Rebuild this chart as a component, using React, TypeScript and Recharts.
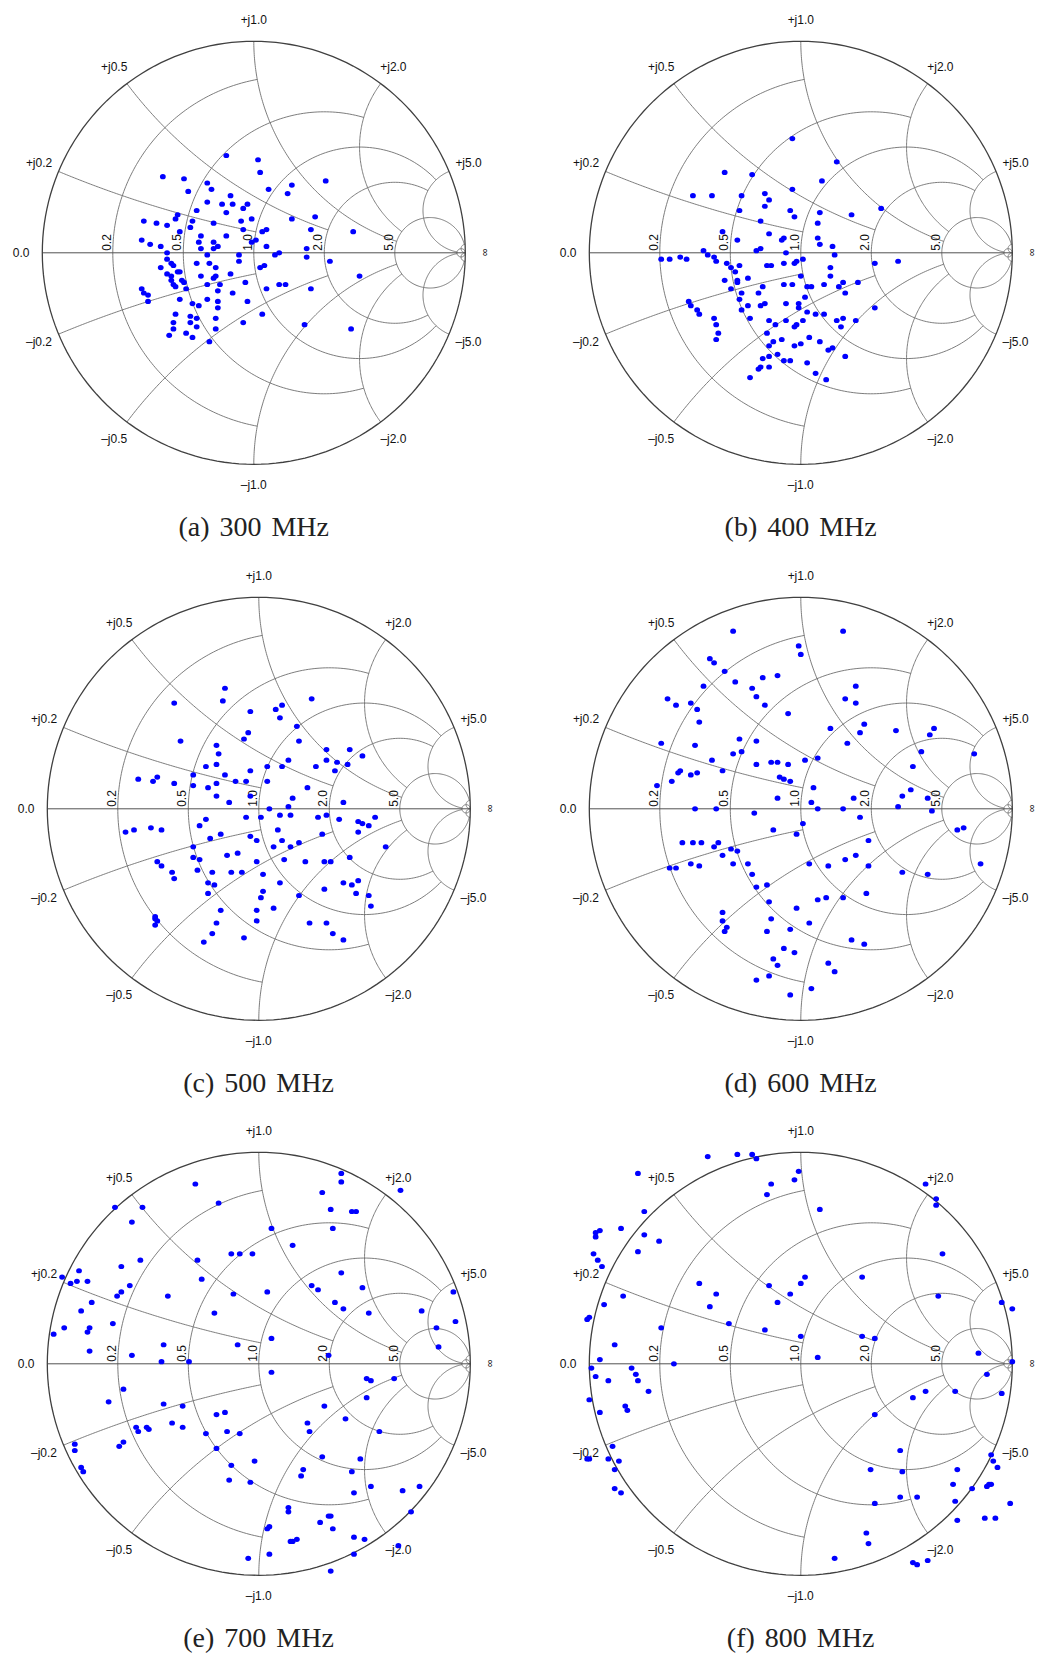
import React from 'react';
import { ScatterChart, Scatter, XAxis, YAxis } from 'recharts';

// reflection coefficient readings (real, imag) per frequency
const mhz300 = [
  [-0.13, 0.46], [0.02, 0.44], [0.03, 0.38], [-0.43, 0.36], [-0.33, 0.35], [-0.31, 0.29], [-0.22, 0.33], [-0.2, 0.3],
  [0.07, 0.3], [0.18, 0.32], [0.16, 0.28], [0.34, 0.34], [-0.11, 0.27], [-0.22, 0.24], [-0.15, 0.23], [-0.1, 0.23],
  [-0.03, 0.23], [-0.05, 0.21], [-0.13, 0.19], [-0.27, 0.2], [-0.36, 0.18], [-0.37, 0.16], [-0.29, 0.15], [-0.19, 0.14],
  [-0.06, 0.15], [-0.01, 0.16], [0.18, 0.16], [0.29, 0.17], [-0.52, 0.15], [-0.46, 0.14], [-0.41, 0.13], [-0.3, 0.12],
  [-0.35, 0.1], [-0.05, 0.11], [0.04, 0.1], [0.06, 0.11], [0.27, 0.11], [0.47, 0.1], [-0.25, 0.08], [-0.13, 0.08],
  [-0.53, 0.06], [-0.49, 0.04], [-0.44, 0.03], [-0.26, 0.05], [-0.19, 0.05], [-0.17, 0.03], [-0.25, 0.02], [-0.19, 0.02],
  [-0.01, 0.05], [0.01, 0.06], [0.06, 0.03], [0.25, 0.02], [0.12, 0.0], [0.1, -0.01], [-0.07, -0.01], [-0.22, -0.01],
  [-0.41, 0.0], [-0.41, -0.03], [0.25, -0.02], [-0.07, -0.04], [-0.27, -0.05], [-0.21, -0.05], [-0.39, -0.05], [-0.38, -0.06],
  [-0.44, -0.07], [-0.18, -0.07], [0.03, -0.07], [0.05, -0.06], [0.36, -0.04], [-0.36, -0.09], [-0.35, -0.09], [-0.41, -0.1],
  [-0.39, -0.11], [-0.39, -0.13], [-0.25, -0.11], [-0.18, -0.11], [-0.19, -0.12], [-0.11, -0.1], [-0.34, -0.13], [-0.33, -0.14],
  [-0.38, -0.15], [-0.37, -0.16], [-0.32, -0.17], [-0.16, -0.15], [-0.22, -0.15], [-0.04, -0.14], [0.12, -0.15], [0.15, -0.15],
  [0.5, -0.11], [-0.53, -0.17], [-0.52, -0.19], [-0.5, -0.2], [-0.5, -0.23], [0.06, -0.17], [0.27, -0.17], [-0.17, -0.18],
  [-0.1, -0.19], [-0.35, -0.22], [-0.22, -0.22], [-0.03, -0.23], [-0.29, -0.24], [-0.26, -0.25], [-0.17, -0.23], [-0.17, -0.26],
  [-0.37, -0.29], [-0.3, -0.3], [-0.27, -0.31], [-0.18, -0.31], [0.04, -0.29], [-0.05, -0.33], [-0.38, -0.33], [-0.3, -0.33],
  [-0.27, -0.35], [-0.38, -0.36], [-0.32, -0.38], [-0.4, -0.39], [-0.29, -0.4], [-0.18, -0.36], [-0.21, -0.42], [0.24, -0.34],
  [0.46, -0.36],
];

const mhz400 = [
  [-0.04, 0.54], [0.17, 0.43], [-0.36, 0.38], [-0.23, 0.37], [0.1, 0.34], [-0.04, 0.3], [-0.51, 0.27], [-0.42, 0.27],
  [-0.28, 0.27], [-0.17, 0.28], [-0.15, 0.25], [-0.17, 0.22], [-0.05, 0.2], [-0.03, 0.17], [-0.29, 0.2], [0.38, 0.21],
  [0.24, 0.18], [0.09, 0.19], [-0.19, 0.15], [0.08, 0.14], [-0.37, 0.1], [-0.15, 0.09], [-0.3, 0.06], [-0.09, 0.06],
  [-0.08, 0.07], [0.08, 0.07], [0.09, 0.04], [0.15, 0.03], [-0.19, 0.02], [-0.21, 0.01], [-0.07, 0.0], [-0.46, 0.01],
  [-0.44, -0.01], [-0.41, -0.02], [-0.4, -0.04], [-0.66, -0.03], [-0.62, -0.03], [-0.57, -0.02], [-0.54, -0.03], [0.16, -0.01],
  [-0.03, -0.05], [-0.02, -0.04], [0.01, -0.03], [-0.08, -0.05], [-0.16, -0.06], [-0.14, -0.06], [-0.35, -0.05], [-0.33, -0.07],
  [-0.31, -0.09], [-0.29, -0.06], [0.35, -0.05], [0.46, -0.04], [0.14, -0.07], [0.14, -0.11], [0.0, -0.11], [-0.25, -0.12],
  [-0.3, -0.13], [-0.3, -0.14], [-0.36, -0.13], [-0.33, -0.17], [-0.08, -0.15], [-0.04, -0.15], [-0.18, -0.16], [-0.2, -0.19],
  [0.03, -0.16], [0.05, -0.16], [0.11, -0.15], [0.18, -0.16], [0.2, -0.14], [0.27, -0.14], [0.21, -0.19], [-0.28, -0.19],
  [-0.29, -0.22], [0.02, -0.21], [-0.01, -0.24], [-0.01, -0.26], [-0.07, -0.24], [-0.25, -0.25], [-0.17, -0.24], [-0.19, -0.25],
  [-0.53, -0.23], [-0.52, -0.25], [-0.49, -0.27], [-0.48, -0.29], [-0.28, -0.27], [-0.24, -0.31], [-0.15, -0.32], [-0.07, -0.32],
  [0.03, -0.28], [0.07, -0.29], [0.11, -0.29], [0.17, -0.32], [0.2, -0.31], [0.26, -0.32], [0.35, -0.26], [-0.12, -0.34],
  [-0.03, -0.35], [-0.02, -0.34], [0.01, -0.32], [0.19, -0.35], [-0.41, -0.31], [-0.4, -0.34], [-0.39, -0.38], [-0.4, -0.41],
  [-0.16, -0.38], [-0.13, -0.42], [-0.15, -0.44], [-0.09, -0.41], [-0.03, -0.44], [0.0, -0.43], [0.04, -0.4], [0.09, -0.42],
  [0.13, -0.46], [0.15, -0.45], [0.21, -0.49], [-0.18, -0.5], [-0.15, -0.49], [-0.11, -0.48], [-0.08, -0.51], [-0.05, -0.51],
  [0.03, -0.52], [0.07, -0.57], [0.12, -0.6], [-0.2, -0.55], [-0.19, -0.54], [-0.15, -0.54], [-0.24, -0.59],
];

const mhz500 = [
  [-0.16, 0.57], [-0.17, 0.51], [-0.4, 0.5], [-0.04, 0.46], [0.08, 0.47], [0.11, 0.49], [0.1, 0.43], [0.25, 0.52],
  [-0.05, 0.36], [-0.07, 0.33], [0.18, 0.39], [0.19, 0.32], [-0.37, 0.32], [-0.2, 0.3], [-0.19, 0.26], [-0.25, 0.2],
  [-0.2, 0.21], [-0.04, 0.18], [0.32, 0.28], [0.43, 0.28], [0.49, 0.25], [0.32, 0.23], [0.37, 0.22], [0.42, 0.21],
  [0.36, 0.18], [0.27, 0.2], [0.14, 0.23], [0.11, 0.2], [0.04, 0.2], [-0.57, 0.14], [-0.5, 0.13], [-0.48, 0.15],
  [-0.4, 0.12], [-0.31, 0.16], [-0.31, 0.11], [-0.24, 0.1], [-0.2, 0.12], [-0.16, 0.16], [-0.11, 0.13], [-0.06, 0.13],
  [0.04, 0.13], [0.23, 0.1], [0.4, 0.03], [-0.2, 0.06], [-0.14, 0.03], [-0.04, 0.06], [0.16, 0.05], [0.14, 0.01],
  [0.05, 0.0], [0.1, -0.03], [0.15, -0.03], [0.01, -0.04], [-0.06, -0.04], [-0.25, -0.05], [-0.28, -0.08], [0.28, -0.04],
  [0.32, -0.03], [0.38, -0.05], [0.47, -0.06], [0.49, -0.07], [0.52, -0.08], [0.55, -0.04], [0.47, -0.11], [-0.63, -0.11],
  [-0.59, -0.1], [-0.51, -0.09], [-0.46, -0.1], [-0.23, -0.14], [-0.18, -0.12], [-0.04, -0.13], [-0.01, -0.15], [0.09, -0.1],
  [0.11, -0.15], [0.07, -0.18], [0.15, -0.18], [0.19, -0.16], [0.3, -0.12], [-0.31, -0.18], [-0.31, -0.23], [-0.28, -0.24],
  [-0.15, -0.22], [-0.1, -0.21], [-0.01, -0.25], [0.12, -0.24], [0.22, -0.25], [0.31, -0.25], [0.34, -0.25], [0.43, -0.23],
  [0.6, -0.18], [-0.48, -0.25], [-0.46, -0.27], [-0.41, -0.3], [-0.4, -0.33], [-0.29, -0.29], [-0.22, -0.3], [-0.13, -0.3],
  [-0.08, -0.3], [0.02, -0.31], [-0.24, -0.35], [-0.21, -0.36], [-0.24, -0.4], [0.1, -0.35], [0.02, -0.39], [0.01, -0.42],
  [0.19, -0.41], [0.31, -0.38], [0.4, -0.35], [0.44, -0.36], [0.47, -0.34], [0.46, -0.4], [0.52, -0.41], [0.53, -0.46],
  [0.07, -0.47], [-0.01, -0.48], [-0.18, -0.48], [-0.49, -0.51], [-0.49, -0.52], [-0.48, -0.53], [-0.49, -0.55], [-0.01, -0.53],
  [-0.2, -0.54], [-0.22, -0.59], [-0.26, -0.63], [-0.07, -0.61], [0.24, -0.54], [0.32, -0.54], [0.35, -0.59], [0.4, -0.62],
];

const mhz600 = [
  [-0.32, 0.84], [0.2, 0.84], [-0.01, 0.77], [0.0, 0.73], [-0.43, 0.71], [-0.41, 0.69], [-0.36, 0.65], [-0.31, 0.6],
  [-0.18, 0.62], [-0.11, 0.63], [-0.46, 0.58], [-0.23, 0.57], [-0.21, 0.53], [-0.17, 0.49], [-0.63, 0.52], [-0.59, 0.49],
  [-0.52, 0.5], [-0.49, 0.47], [-0.48, 0.41], [-0.06, 0.45], [0.26, 0.58], [0.21, 0.52], [0.26, 0.5], [0.14, 0.38],
  [0.3, 0.4], [0.28, 0.36], [0.45, 0.37], [0.63, 0.38], [0.61, 0.35], [0.57, 0.27], [0.53, 0.2], [0.82, 0.26],
  [-0.66, 0.31], [-0.5, 0.3], [-0.42, 0.23], [-0.37, 0.18], [-0.32, 0.26], [-0.29, 0.33], [-0.28, 0.27], [-0.21, 0.32],
  [-0.21, 0.21], [-0.14, 0.22], [-0.11, 0.22], [-0.06, 0.21], [0.02, 0.23], [0.08, 0.24], [0.22, 0.31], [-0.58, 0.17],
  [-0.57, 0.18], [-0.52, 0.16], [-0.49, 0.17], [-0.61, 0.13], [-0.68, 0.11], [-0.1, 0.15], [-0.08, 0.14], [-0.05, 0.13],
  [0.06, 0.1], [0.52, 0.09], [0.48, 0.06], [0.6, 0.05], [-0.11, 0.05], [0.05, 0.03], [0.25, 0.05], [-0.5, 0.0],
  [-0.4, 0.0], [-0.22, -0.02], [0.08, 0.0], [0.2, 0.0], [0.28, -0.04], [0.46, 0.01], [0.62, -0.01], [-0.13, -0.1],
  [-0.02, -0.12], [0.01, -0.07], [0.74, -0.1], [0.77, -0.09], [0.32, -0.15], [-0.56, -0.16], [-0.51, -0.16], [-0.47, -0.16],
  [-0.41, -0.18], [-0.39, -0.16], [-0.37, -0.22], [-0.33, -0.19], [-0.3, -0.2], [-0.62, -0.28], [-0.59, -0.28], [-0.52, -0.26],
  [-0.48, -0.27], [-0.32, -0.26], [-0.25, -0.26], [-0.23, -0.31], [-0.21, -0.37], [-0.16, -0.36], [-0.15, -0.44], [0.04, -0.26],
  [0.13, -0.27], [0.21, -0.24], [0.26, -0.22], [0.32, -0.27], [0.48, -0.3], [0.6, -0.31], [0.85, -0.26], [0.31, -0.4],
  [0.2, -0.42], [0.12, -0.42], [0.08, -0.43], [-0.02, -0.47], [-0.37, -0.49], [-0.37, -0.53], [-0.35, -0.56], [-0.36, -0.58],
  [-0.14, -0.52], [-0.16, -0.58], [-0.05, -0.57], [0.04, -0.54], [0.24, -0.62], [0.3, -0.64], [-0.08, -0.66], [-0.03, -0.68],
  [-0.13, -0.71], [-0.11, -0.74], [0.13, -0.73], [0.16, -0.77], [-0.21, -0.81], [-0.15, -0.79], [0.05, -0.85], [-0.05, -0.88],
];

const mhz700 = [
  [-0.3, 0.85], [-0.19, 0.76], [-0.68, 0.74], [-0.55, 0.74], [-0.6, 0.67], [0.39, 0.9], [0.39, 0.86], [0.3, 0.81],
  [0.67, 0.82], [0.34, 0.73], [0.44, 0.72], [0.46, 0.72], [0.35, 0.64], [0.06, 0.64], [0.16, 0.56], [-0.13, 0.52],
  [-0.09, 0.52], [-0.03, 0.52], [-0.29, 0.49], [-0.56, 0.49], [-0.65, 0.46], [-0.27, 0.4], [-0.85, 0.44], [-0.93, 0.41],
  [-0.89, 0.38], [-0.86, 0.39], [-0.81, 0.39], [-0.61, 0.37], [-0.65, 0.34], [-0.67, 0.32], [-0.43, 0.32], [-0.12, 0.33],
  [0.04, 0.34], [0.25, 0.37], [0.28, 0.35], [0.39, 0.43], [0.49, 0.36], [0.36, 0.29], [0.4, 0.26], [0.52, 0.24],
  [0.77, 0.25], [0.92, 0.34], [0.93, 0.2], [0.84, 0.17], [0.85, 0.08], [-0.79, 0.29], [-0.84, 0.25], [-0.21, 0.24],
  [-0.92, 0.17], [-0.8, 0.17], [-0.81, 0.15], [-0.69, 0.19], [-0.97, 0.14], [-0.8, 0.06], [-0.45, 0.09], [-0.6, 0.04],
  [-0.1, 0.09], [0.06, 0.12], [0.33, 0.04], [-0.46, 0.01], [-0.33, 0.01], [0.06, -0.04], [0.51, -0.07], [0.53, -0.08],
  [0.64, -0.07], [0.51, -0.16], [-0.64, -0.12], [-0.71, -0.18], [-0.45, -0.19], [-0.36, -0.2], [-0.2, -0.24], [-0.16, -0.23],
  [0.31, -0.2], [-0.41, -0.28], [-0.36, -0.3], [-0.58, -0.3], [-0.57, -0.32], [-0.53, -0.3], [-0.52, -0.31], [-0.25, -0.33],
  [-0.15, -0.32], [-0.09, -0.33], [0.23, -0.28], [0.24, -0.32], [0.41, -0.26], [0.57, -0.32], [-0.87, -0.38], [-0.87, -0.41],
  [-0.66, -0.39], [-0.64, -0.37], [-0.2, -0.4], [0.3, -0.44], [0.48, -0.45], [-0.84, -0.49], [-0.83, -0.51], [-0.13, -0.48],
  [-0.02, -0.46], [0.21, -0.5], [0.2, -0.53], [0.44, -0.51], [-0.14, -0.55], [-0.04, -0.56], [0.53, -0.58], [0.45, -0.61],
  [0.68, -0.6], [0.76, -0.58], [0.72, -0.7], [0.14, -0.68], [0.14, -0.7], [0.29, -0.75], [0.33, -0.72], [0.34, -0.72],
  [0.35, -0.78], [0.05, -0.77], [0.04, -0.78], [0.15, -0.84], [0.16, -0.84], [0.18, -0.83], [0.45, -0.82], [0.5, -0.83],
  [0.05, -0.9], [0.45, -0.9], [0.66, -0.86], [-0.05, -0.92], [0.34, -0.98],
];

const mhz800 = [
  [-0.44, 0.98], [-0.3, 0.99], [-0.23, 0.99], [-0.21, 0.97], [-0.77, 0.9], [-0.01, 0.91], [-0.03, 0.87], [-0.14, 0.85],
  [-0.16, 0.8], [0.09, 0.73], [0.59, 0.85], [0.64, 0.78], [0.64, 0.75], [-0.74, 0.72], [-0.85, 0.64], [-0.97, 0.6],
  [-0.97, 0.62], [-0.95, 0.63], [-0.74, 0.61], [-0.67, 0.58], [-0.77, 0.53], [-0.98, 0.52], [-0.96, 0.49], [-0.94, 0.46],
  [0.67, 0.52], [0.29, 0.41], [0.02, 0.41], [0.0, 0.38], [-0.15, 0.37], [-0.05, 0.33], [-0.11, 0.29], [-0.48, 0.38],
  [-0.4, 0.33], [-0.43, 0.27], [-0.84, 0.32], [-0.93, 0.28], [0.65, 0.32], [0.95, 0.29], [1.0, 0.26], [-1.01, 0.21],
  [-1.0, 0.22], [-0.34, 0.19], [-0.17, 0.16], [-0.66, 0.17], [0.0, 0.13], [0.29, 0.13], [0.35, 0.12], [-0.88, 0.09],
  [-0.95, 0.02], [-0.6, 0.0], [0.08, 0.03], [0.84, 0.05], [1.0, 0.01], [-0.99, -0.02], [-0.97, -0.06], [-0.91, -0.08],
  [-0.8, -0.02], [-0.78, -0.05], [-0.77, -0.08], [-0.72, -0.13], [0.88, -0.05], [-1.0, -0.17], [-0.83, -0.2], [-0.82, -0.22],
  [-0.95, -0.23], [0.53, -0.16], [0.59, -0.13], [0.73, -0.13], [0.95, -0.14], [0.35, -0.24], [0.47, -0.41], [0.33, -0.5],
  [0.48, -0.51], [0.9, -0.43], [0.91, -0.46], [0.93, -0.49], [0.74, -0.5], [0.72, -0.57], [0.81, -0.59], [0.89, -0.57],
  [0.9, -0.57], [0.88, -0.58], [0.73, -0.65], [0.99, -0.66], [0.74, -0.74], [0.87, -0.73], [0.92, -0.73], [0.35, -0.66],
  [0.47, -0.63], [0.55, -0.63], [0.31, -0.8], [0.32, -0.85], [0.16, -0.92], [0.53, -0.94], [0.55, -0.95], [0.6, -0.93],
  [-0.89, -0.39], [-1.01, -0.45], [-1.0, -0.45], [-0.91, -0.45], [-0.86, -0.46], [-0.88, -0.5], [-0.88, -0.59], [-0.85, -0.61],
];

const captions = ['(a) 300 MHz', '(b) 400 MHz', '(c) 500 MHz', '(d) 600 MHz', '(e) 700 MHz', '(f) 800 MHz'];
const series = [mhz300, mhz400, mhz500, mhz600, mhz700, mhz800];

// grid circles and how far each one is drawn
const gridValues = [0.2, 0.5, 1, 2, 5, 50];
const gridLimits = [1, 2, 5, 5, 50, Infinity];
const labelValues = [0.2, 0.5, 1, 2, 5];

// panel centres on the page
const centres = [
  [253.7, 252.5], [800.7, 252.5],
  [258.5, 809], [800.6, 809],
  [258.5, 1364], [800.6, 1364],
];

const R = 211.5;
const D = 1.2;
const W = 2 * D * R;

type P = { x: number; y: number };

function gamma(r: number, x: number): P {
  const d = (r + 1) * (r + 1) + x * x;
  return { x: (r * r + x * x - 1) / d, y: (2 * x) / d };
}

function rArc(r: number, xmax: number): P[] {
  const c = r / (1 + r);
  const rad = 1 / (1 + r);
  let a0 = 0;
  if (isFinite(xmax)) {
    const g = gamma(r, xmax);
    a0 = Math.atan2(g.y, g.x - c);
  }
  const out: P[] = [];
  const n = 180;
  for (let i = 0; i <= n; i++) {
    const a = a0 + ((2 * Math.PI - 2 * a0) * i) / n;
    out.push({ x: c + rad * Math.cos(a), y: rad * Math.sin(a) });
  }
  return out;
}

function xArc(x: number, rmax: number): P[] {
  const s = Math.sign(x);
  const ax = Math.abs(x);
  const rad = 1 / ax;
  const norm = (a: number) => (a < 0 ? a + 2 * Math.PI : a);
  const g0 = gamma(0, ax);
  const a0 = norm(Math.atan2(g0.y - rad, g0.x - 1));
  let a1 = 1.5 * Math.PI;
  if (isFinite(rmax)) {
    const g1 = gamma(rmax, ax);
    a1 = norm(Math.atan2(g1.y - rad, g1.x - 1));
  }
  const out: P[] = [];
  const n = 120;
  for (let i = 0; i <= n; i++) {
    const a = a0 + ((a1 - a0) * i) / n;
    out.push({ x: 1 + rad * Math.cos(a), y: s * (rad + rad * Math.sin(a)) });
  }
  return out;
}

const gridArcs: P[][] = [];
gridValues.forEach((v, i) => {
  gridArcs.push(rArc(v, gridLimits[i]));
  gridArcs.push(xArc(v, gridLimits[i]));
  gridArcs.push(xArc(-v, gridLimits[i]));
});
const outer = rArc(0, Infinity);
const axisLine: P[] = [{ x: -1, y: 0 }, { x: 1, y: 0 }];

const edgeLabels = [
  { x: -1.1, y: 0, t: '0.0' },
  ...labelValues.flatMap((v) => {
    const g = gamma(0, v);
    return [
      { x: 1.1 * g.x, y: 1.1 * g.y, t: `+j${v.toFixed(1)}` },
      { x: 1.1 * g.x, y: -1.1 * g.y, t: `\u2013j${v.toFixed(1)}` },
    ];
  }),
];
const infLabel = [{ x: 1.1, y: 0, t: '\u221e' }];
const rLabels = labelValues.map((v) => ({ x: gamma(v, 0).x, y: 0, t: v.toFixed(1) }));

const font = "'Liberation Sans', Arial, sans-serif";
const noShape = () => <g />;
const gridColor = '#6e6e6e';

function SmithPanel({ data }: { data: number[][] }) {
  const pts = data.map(([x, y]) => ({ x, y }));
  return (
    <ScatterChart width={W} height={W} margin={{ top: 0, right: 0, bottom: 0, left: 0 }}>
      <XAxis type="number" dataKey="x" domain={[-D, D]} allowDataOverflow hide />
      <YAxis type="number" dataKey="y" domain={[-D, D]} allowDataOverflow hide />
      {gridArcs.map((a, i) => (
        <Scatter key={i} data={a} fill={gridColor} line={{ stroke: gridColor, strokeWidth: 0.9 }}
          shape={noShape} isAnimationActive={false} />
      ))}
      <Scatter data={axisLine} fill="#505050" line={{ stroke: '#505050', strokeWidth: 1 }} shape={noShape} isAnimationActive={false} />
      <Scatter data={outer} fill="#404040" line={{ stroke: '#404040', strokeWidth: 1.3 }} shape={noShape} isAnimationActive={false} />
      <Scatter data={edgeLabels} isAnimationActive={false}
        shape={(p: any) => (
          <text x={p.cx} y={p.cy} textAnchor="middle" dominantBaseline="central" fontSize={12}
            fontFamily={font} fill="#111">{p.payload.t}</text>
        )} />
      <Scatter data={infLabel} isAnimationActive={false}
        shape={(p: any) => (
          <text x={p.cx} y={p.cy} textAnchor="middle" dominantBaseline="central" fontSize={11}
            fontFamily={font} fill="#111" transform={`rotate(90 ${p.cx} ${p.cy})`}>{p.payload.t}</text>
        )} />
      <Scatter data={rLabels} isAnimationActive={false}
        shape={(p: any) => (
          <text x={p.cx - 2} y={p.cy - 2} textAnchor="start" fontSize={12} fontFamily={font} fill="#111"
            transform={`rotate(-90 ${p.cx - 2} ${p.cy - 2})`}>{p.payload.t}</text>
        )} />
      <Scatter data={pts} fill="#0000ff" isAnimationActive={false}
        shape={(p: any) => <ellipse cx={p.cx} cy={p.cy} rx={2.9} ry={2.6} fill="#0000ff" />} />
    </ScatterChart>
  );
}

export default function App() {
  return (
    <div style={{ position: 'absolute', left: 0, top: 0, width: 1038, height: 1654, overflow: 'hidden', background: '#fff' }}>
      {series.map((d, i) => {
        const [cx, cy] = centres[i];
        return (
          <React.Fragment key={i}>
            <div style={{ position: 'absolute', left: cx - W / 2, top: cy - W / 2, width: W, height: W }}>
              <SmithPanel data={d} />
            </div>
            <div style={{
              position: 'absolute', left: cx - 150, top: cy + 274 - 17, width: 300, textAlign: 'center',
              fontFamily: "'Liberation Serif', 'Times New Roman', serif", fontSize: 28, lineHeight: '34px',
              wordSpacing: 3, color: '#222',
            }}>{captions[i]}</div>
          </React.Fragment>
        );
      })}
    </div>
  );
}
